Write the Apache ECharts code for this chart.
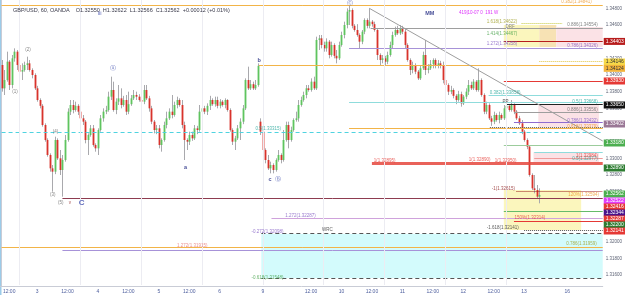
<!DOCTYPE html>
<html>
<head>
<meta charset="utf-8">
<script src="https://cdn.jsdelivr.net/npm/echarts@6/dist/echarts.min.js"></script>
<style>html,body{margin:0;padding:0;background:#fff}#chart{width:625px;height:295px}</style>
</head>
<body>
<div id="chart"></div>
<script>
// GBP/USD 60 min candles
var opens = [
1.3412,1.3384,1.3394,1.3416,1.3388,1.3420,1.3428,1.3412,1.3404,1.3406,
1.3412,1.3414,1.3406,1.3400,1.3384,1.3370,1.3363,1.3340,1.3322,1.3304,
1.3288,1.3284,1.3322,1.3300,1.3286,1.3298,1.3322,1.3356,1.3364,1.3358,
1.3363,1.3356,1.3348,1.3344,1.3322,1.3328,1.3336,1.3316,1.3312,1.3334,
1.3348,1.3356,1.3358,1.3374,1.3382,1.3358,1.3368,1.3372,1.3364,1.3370,
1.3356,1.3365,1.3372,1.3376,1.3374,1.3370,1.3368,1.3382,1.3372,1.3360,
1.3344,1.3334,1.3336,1.3316,1.3322,1.3340,1.3348,1.3356,1.3352,1.3364,
1.3370,1.3364,1.3340,1.3322,1.3320,1.3328,1.3324,1.3336,1.3334,1.3356,
1.3360,1.3356,1.3363,1.3370,1.3365,1.3370,1.3363,1.3368,1.3364,1.3370,
1.3358,1.3334,1.3320,1.3324,1.3336,1.3344,1.3360,1.3394,1.3384,1.3389,
1.3384,1.3388,1.3344,1.3332,1.3310,1.3298,1.3288,1.3292,1.3286,1.3298,
1.3304,1.3298,1.3322,1.3340,1.3322,1.3334,1.3346,1.3348,1.3364,1.3370,
1.3376,1.3384,1.3382,1.3392,1.3384,1.3442,1.3444,1.3436,1.3432,1.3440,
1.3424,1.3436,1.3423,1.3420,1.3436,1.3448,1.3460,1.3476,1.3478,1.3459,
1.3454,1.3448,1.3440,1.3452,1.3466,1.3459,1.3464,1.3461,1.3454,1.3424,
1.3418,1.3420,1.3416,1.3424,1.3436,1.3448,1.3454,1.3450,1.3456,1.3452,
1.3436,1.3418,1.3406,1.3412,1.3404,1.3396,1.3408,1.3424,1.3406,1.3408,
1.3413,1.3418,1.3411,1.3414,1.3411,1.3394,1.3388,1.3380,1.3382,1.3375,
1.3370,1.3377,1.3366,1.3374,1.3380,1.3388,1.3384,1.3392,1.3382,1.3394,
1.3376,1.3356,1.3364,1.3348,1.3344,1.3352,1.3346,1.3352,1.3348,1.3360,
1.3363,1.3358,1.3364,1.3356,1.3348,1.3342,1.3332,1.3322,1.3314,1.3280,
1.3264,1.3262,1.3254
];
var closes = [
1.3384,1.3394,1.3416,1.3388,1.3420,1.3428,1.3412,1.3404,1.3406,1.3412,
1.3414,1.3406,1.3400,1.3384,1.3370,1.3363,1.3340,1.3322,1.3304,1.3288,
1.3284,1.3322,1.3300,1.3286,1.3298,1.3322,1.3356,1.3364,1.3358,1.3363,
1.3356,1.3348,1.3344,1.3322,1.3328,1.3336,1.3316,1.3312,1.3334,1.3348,
1.3356,1.3358,1.3374,1.3382,1.3358,1.3368,1.3372,1.3364,1.3370,1.3356,
1.3365,1.3372,1.3376,1.3374,1.3370,1.3368,1.3382,1.3372,1.3360,1.3344,
1.3334,1.3336,1.3316,1.3322,1.3340,1.3348,1.3356,1.3352,1.3364,1.3370,
1.3364,1.3340,1.3322,1.3320,1.3328,1.3324,1.3336,1.3334,1.3356,1.3360,
1.3356,1.3363,1.3370,1.3365,1.3370,1.3363,1.3368,1.3364,1.3370,1.3358,
1.3334,1.3320,1.3324,1.3336,1.3344,1.3360,1.3394,1.3384,1.3389,1.3384,
1.3388,1.3411,1.3332,1.3310,1.3298,1.3288,1.3292,1.3286,1.3298,1.3304,
1.3298,1.3322,1.3340,1.3322,1.3334,1.3346,1.3348,1.3364,1.3370,1.3376,
1.3384,1.3382,1.3392,1.3384,1.3442,1.3444,1.3436,1.3432,1.3440,1.3424,
1.3436,1.3423,1.3420,1.3436,1.3448,1.3460,1.3476,1.3478,1.3459,1.3454,
1.3448,1.3440,1.3452,1.3466,1.3459,1.3464,1.3461,1.3454,1.3424,1.3418,
1.3420,1.3416,1.3424,1.3436,1.3448,1.3454,1.3450,1.3456,1.3452,1.3436,
1.3418,1.3406,1.3412,1.3404,1.3396,1.3408,1.3424,1.3406,1.3408,1.3413,
1.3418,1.3411,1.3414,1.3411,1.3394,1.3388,1.3380,1.3382,1.3375,1.3370,
1.3377,1.3366,1.3374,1.3380,1.3388,1.3384,1.3392,1.3382,1.3394,1.3376,
1.3356,1.3364,1.3348,1.3344,1.3352,1.3346,1.3352,1.3348,1.3360,1.3363,
1.3358,1.3364,1.3356,1.3348,1.3342,1.3332,1.3322,1.3314,1.3280,1.3264,
1.3262,1.3254,1.3256
];
var highs = [
1.3418,1.3406,1.3428,1.3418,1.3424,1.3432,1.3430,1.3416,1.3414,1.3416,
1.3422,1.3418,1.3408,1.3402,1.3387,1.3372,1.3365,1.3342,1.3324,1.3306,
1.3292,1.3326,1.3324,1.3310,1.3304,1.3328,1.3360,1.3370,1.3370,1.3368,
1.3365,1.3358,1.3352,1.3346,1.3330,1.3340,1.3340,1.3318,1.3336,1.3352,
1.3360,1.3363,1.3380,1.3398,1.3392,1.3372,1.3388,1.3384,1.3375,1.3376,
1.3380,1.3376,1.3382,1.3380,1.3377,1.3372,1.3388,1.3388,1.3375,1.3363,
1.3346,1.3340,1.3340,1.3324,1.3344,1.3356,1.3360,1.3376,1.3368,1.3374,
1.3372,1.3370,1.3344,1.3324,1.3332,1.3332,1.3340,1.3339,1.3364,1.3368,
1.3363,1.3366,1.3375,1.3372,1.3374,1.3374,1.3371,1.3370,1.3372,1.3371,
1.3360,1.3336,1.3327,1.3340,1.3348,1.3364,1.3396,1.3410,1.3394,1.3392,
1.3394,1.3414,1.3348,1.3334,1.3312,1.3304,1.3296,1.3294,1.3300,1.3310,
1.3306,1.3334,1.3344,1.3344,1.3338,1.3348,1.3356,1.3370,1.3374,1.3380,
1.3388,1.3388,1.3396,1.3398,1.3446,1.3448,1.3448,1.3440,1.3444,1.3442,
1.3440,1.3438,1.3430,1.3440,1.3452,1.3464,1.3480,1.3483,1.3480,1.3461,
1.3461,1.3450,1.3454,1.3468,1.3468,1.3480,1.3466,1.3464,1.3456,1.3426,
1.3424,1.3423,1.3428,1.3440,1.3452,1.3458,1.3459,1.3460,1.3459,1.3456,
1.3438,1.3420,1.3416,1.3414,1.3406,1.3412,1.3428,1.3442,1.3413,1.3418,
1.3420,1.3420,1.3418,1.3417,1.3416,1.3396,1.3390,1.3387,1.3384,1.3377,
1.3381,1.3380,1.3376,1.3384,1.3394,1.3392,1.3395,1.3394,1.3408,1.3396,
1.3378,1.3368,1.3366,1.3351,1.3356,1.3354,1.3356,1.3354,1.3364,1.3366,
1.3365,1.3370,1.3366,1.3358,1.3351,1.3346,1.3334,1.3324,1.3316,1.3282,
1.3280,1.3268,1.3264
];
var lows = [
1.3380,1.3376,1.3392,1.3382,1.3384,1.3416,1.3406,1.3400,1.3394,1.3404,
1.3406,1.3404,1.3396,1.3382,1.3368,1.3360,1.3338,1.3320,1.3302,1.3284,
1.3260,1.3281,1.3298,1.3280,1.3254,1.3296,1.3320,1.3352,1.3354,1.3356,
1.3352,1.3346,1.3340,1.3318,1.3304,1.3326,1.3314,1.3308,1.3304,1.3332,
1.3344,1.3353,1.3356,1.3370,1.3356,1.3353,1.3364,1.3360,1.3362,1.3352,
1.3353,1.3363,1.3370,1.3370,1.3368,1.3364,1.3365,1.3370,1.3356,1.3341,
1.3330,1.3329,1.3312,1.3308,1.3320,1.3336,1.3346,1.3348,1.3350,1.3360,
1.3362,1.3336,1.3298,1.3310,1.3316,1.3321,1.3322,1.3329,1.3332,1.3352,
1.3353,1.3352,1.3358,1.3363,1.3362,1.3360,1.3360,1.3362,1.3360,1.3356,
1.3332,1.3316,1.3310,1.3322,1.3322,1.3341,1.3358,1.3382,1.3382,1.3382,
1.3382,1.3386,1.3328,1.3308,1.3294,1.3286,1.3282,1.3282,1.3284,1.3296,
1.3294,1.3296,1.3320,1.3312,1.3320,1.3332,1.3344,1.3344,1.3362,1.3368,
1.3372,1.3380,1.3380,1.3382,1.3382,1.3430,1.3432,1.3428,1.3428,1.3420,
1.3422,1.3420,1.3414,1.3418,1.3434,1.3444,1.3456,1.3460,1.3456,1.3452,
1.3446,1.3432,1.3437,1.3449,1.3456,1.3456,1.3458,1.3452,1.3418,1.3412,
1.3414,1.3412,1.3413,1.3422,1.3432,1.3446,1.3448,1.3448,1.3449,1.3432,
1.3416,1.3400,1.3402,1.3401,1.3394,1.3394,1.3406,1.3400,1.3402,1.3406,
1.3408,1.3408,1.3408,1.3408,1.3390,1.3384,1.3376,1.3377,1.3372,1.3365,
1.3368,1.3362,1.3364,1.3371,1.3376,1.3382,1.3382,1.3380,1.3380,1.3374,
1.3353,1.3353,1.3346,1.3339,1.3341,1.3344,1.3342,1.3346,1.3346,1.3356,
1.3356,1.3356,1.3353,1.3346,1.3340,1.3329,1.3320,1.3311,1.3278,1.3262,
1.3258,1.3252,1.3246
];

// time axis
var timeTicks  = [3, 14, 26, 38, 50, 62, 74, 86, 103, 122, 134, 146, 158, 170, 182, 194, 206, 223];
var timeLabels = ['12:00','3','12:00','4','12:00','5','12:00','6','9','12:00','10','12:00','11','12:00','12','12:00','13','16'];
var gridLines  = [7, 31, 55, 79, 103, 127, 151, 175, 199];
var priceTicks = [1.316,1.318,1.320,1.322,1.324,1.326,1.328,1.330,1.332,1.334,1.336,1.338,1.340,1.342,1.344,1.346,1.348];

// drawn levels: [fromBar, toBar, price, kind]
var levels = [
  [0, 237, 1.3484, 'orange'],
  [145.5, 237, 1.3456, 'grey'],
  [205, 221, 1.3462, 'oliveDot'],
  [198, 237, 1.3440, 'darkred'],
  [137, 237, 1.3432, 'lavender'],
  [212, 237, 1.3416, 'yellowDot'],
  [101.5, 237, 1.3412, 'orange'],
  [198, 237, 1.3393, 'red'],
  [192, 237, 1.3376, 'teal'],
  [137, 237, 1.3367, 'teal'],
  [199, 237, 1.3365, 'black'],
  [202, 237, 1.33556, 'grey'],
  [202, 237, 1.33432, 'purple'],
  [192.5, 237, 1.33376, 'darkDot'],
  [137, 237, 1.3336, 'orange'],
  [0, 237, 1.33316, 'cyanDash'],
  [198, 237, 1.3316, 'greenLight'],
  [210, 237, 1.33076, 'teal'],
  [210, 237, 1.33004, 'salmon'],
  [146, 237, 1.32944, 'redThick'],
  [203, 237, 1.32608, 'darkredDot'],
  [24, 237, 1.3252, 'maroon'],
  [198, 237, 1.32368, 'green'],
  [106.4, 237, 1.32284, 'pink'],
  [202, 237, 1.3225, 'red'],
  [206, 237, 1.3214, 'darkDot'],
  [102.4, 237, 1.32098, 'darkDash'],
  [0, 237, 1.31936, 'orange'],
  [24, 237, 1.3190, 'lavender'],
  [102.4, 237, 1.31564, 'darkDash']
];
// trend line [bar, price] -> [bar, price]
var trendLine = [[145, 1.3480], [237, 1.33208]];

// boxes: [fromBar, toBar, priceA, priceB, kind]
var boxes = [
  [198, 212, 1.3460, 1.34336, 'yellow'],
  [212, 218.7, 1.3460, 1.34336, 'tan'],
  [218.7, 237, 1.34576, 1.34336, 'pink'],
  [211.6, 235.5, 1.3364, 1.33376, 'pink'],
  [209.7, 235.5, 1.33076, 1.32956, 'pink'],
  [198, 228.5, 1.3262, 1.3214, 'yellow'],
  [102.4, 237, 1.32092, 1.31564, 'cyan']
];

// price tags on the right scale: [price, text, kind]
var priceTags = [
  [1.34403, '1.34403', 'darkred'],
  [1.34156, '1.34146', 'yellow'],
  [1.34080, '1.34124', 'amber'],
  [1.33928, '1.33930', 'red'],
  [1.33640, '1.33650', 'black'],
  [1.33412, '1.33402', 'mauve'],
  [1.33184, '1.33180', 'green'],
  [1.32884, '1.32890', 'darkgreen'],
  [1.32572, '1.32562', 'green'],
  [1.32488, '1.32522', 'magenta'],
  [1.32416, '1.32416', 'red'],
  [1.32344, '1.32344', 'violet'],
  [1.32272, '1.32287', 'red'],
  [1.32200, '1.32200', 'darkgreen'],
  [1.32128, '1.32141', 'red']
];

// text notes: [bar, price, text, kind]
var notes = [
  [37.9, 1.34744, 'iii', 'wave'],
  [136.1, 1.34864, 'Ⓒ', 'wave'],
  [167, 1.34744, 'MM', 'navy'],
  [180.3, 1.34744, '419|10-07 0  191 W', 'magenta'],
  [191.3, 1.34636, '1.618(1.34622)', 'olive'],
  [220.6, 1.34876, '0.382(1.34841)', 'orange'],
  [223, 1.3460, '0.886(1.34554)', 'grey'],
  [198.7, 1.34576, 'DRF', 'grey'],
  [191.3, 1.34492, '1.414(1.34467)', 'green'],
  [191.3, 1.34372, '1.272(1.34358)', 'purple'],
  [223, 1.34348, '0.786(1.34326)', 'purple'],
  [192.5, 1.33784, '0.382(1.33858)', 'teal'],
  [225, 1.33676, '0.5(1.33668)', 'teal'],
  [197.5, 1.33676, 'PP', 'dark'],
  [223, 1.3358, '0.886(1.33556)', 'grey'],
  [223, 1.33448, '0.786(1.33432)', 'purple'],
  [223, 1.33376, '0.618(1.33379)', 'orange'],
  [100.1, 1.33352, '0.5(1.33315)', 'teal'],
  [225, 1.32996, '0.5(1.32977)', 'teal'],
  [226.5, 1.33030, '1(1.32984)', 'red'],
  [146.7, 1.32968, '1(1.32895)', 'red'],
  [184.2, 1.32980, '1(1.32890)', 'red'],
  [194.4, 1.32968, '1(1.32950)', 'red'],
  [193.2, 1.32632, '-1(1.32615)', 'darkred'],
  [223.4, 1.3256, '120%(1.32594)', 'orange'],
  [111.8, 1.32308, '1.272(1.32287)', 'purple'],
  [202.2, 1.32284, '150%(1.32314)', 'red'],
  [191.3, 1.32164, '-1.618(1.32141)', 'dark'],
  [98.5, 1.32116, '-0.272(1.32098)', 'purple'],
  [126.3, 1.3214, 'WRC', 'dark'],
  [69.2, 1.31948, '1.272(1.31915)', 'salmon'],
  [222.6, 1.31972, '0.786(1.31959)', 'olive'],
  [98.5, 1.31564, '-0.618(1.31548)', 'green'],
  [4.2, 1.33796, '(1)', 'grey'],
  [9.3, 1.3430, '(2)', 'grey'],
  [19.1, 1.3256, '(3)', 'grey'],
  [20.2, 1.33316, '(4)', 'grey'],
  [22.2, 1.32464, '(5)', 'grey'],
  [26.5, 1.32464, 'v', 'darkred'],
  [30.4, 1.32464, 'C', 'bigC'],
  [42.6, 1.3408, 'Ⓐ', 'wave'],
  [71.9, 1.32896, 'a', 'navy'],
  [100.9, 1.3418, 'b', 'navy'],
  [105.2, 1.32752, 'c', 'navy'],
  [107.9, 1.32752, 'Ⓑ', 'wave']
];

var lineKinds = {
  orange: {color: '#f2b448', width: 1},
  grey: {color: '#9e9e9e', width: 1},
  oliveDot: {color: '#c5c83a', width: 1, type: 'dotted'},
  darkred: {color: '#b71c1c', width: 1.2},
  lavender: {color: '#a792d8', width: 1},
  yellowDot: {color: '#e3c43c', width: 1, type: 'dotted'},
  red: {color: '#e53935', width: 1},
  teal: {color: '#8fdcdc', width: 1},
  black: {color: '#222222', width: 1},
  purple: {color: '#8e6bd0', width: 1},
  darkDot: {color: '#555555', width: 1, type: 'dotted'},
  cyanDash: {color: '#4fd3e0', width: 1.2, type: [4, 3]},
  greenLight: {color: '#9ccc9c', width: 1},
  salmon: {color: '#f19a9a', width: 1},
  redThick: {color: '#e5473d', width: 3, opacity: 0.85},
  darkredDot: {color: '#9b1c1c', width: 1, type: 'dotted'},
  maroon: {color: '#8e3b50', width: 1},
  green: {color: '#66bb6a', width: 1},
  pink: {color: '#cfa2dc', width: 1},
  darkDash: {color: '#555555', width: 1, type: [4, 3]}
};
var boxColors = {yellow: '#fbf6bd', tan: '#f7e2b4', pink: '#fbe2e6', cyan: '#d3fbfc'};
var tagColors = {
  darkred: ['#b71c1c', '#fff'], yellow: ['#f6d94a', '#333'], amber: ['#f2b43b', '#333'],
  red: ['#e53935', '#fff'], black: ['#111', '#fff'], mauve: ['#9a7796', '#fff'],
  green: ['#4caf50', '#fff'], darkgreen: ['#2e7d32', '#fff'], magenta: ['#e040fb', '#fff'],
  violet: ['#4a148c', '#fff']
};
var noteStyles = {
  wave: {color: '#3949ab', fontSize: 6},
  navy: {color: '#1a237e', fontSize: 5.5, fontWeight: 'bold'},
  magenta: {color: '#d500f9', fontSize: 4.5},
  olive: {color: '#9e9d24', fontSize: 4.5},
  orange: {color: '#ef9a2a', fontSize: 4.5},
  grey: {color: '#666', fontSize: 4.5},
  green: {color: '#43a047', fontSize: 4.5},
  purple: {color: '#7e57c2', fontSize: 4.5},
  teal: {color: '#26a69a', fontSize: 4.5},
  dark: {color: '#333', fontSize: 4.5},
  red: {color: '#e53935', fontSize: 4.5},
  darkred: {color: '#8b1a1a', fontSize: 4.5},
  salmon: {color: '#e57373', fontSize: 4.5},
  bigC: {color: '#3949ab', fontSize: 8, fontWeight: 'bold'}
};

var candleData = opens.map(function (o, i) { return [i, o, closes[i], lows[i], highs[i]]; });

var levelLines = levels.map(function (l) {
  var k = lineKinds[l[3]];
  return [{coord: [l[0], l[2]], lineStyle: {color: k.color, width: k.width, type: k.type || 'solid', opacity: k.opacity || 1}},
          {coord: [l[1], l[2]]}];
});
levelLines.push([{coord: trendLine[0], lineStyle: {color: '#9e9e9e', width: 1, type: 'solid'}}, {coord: trendLine[1]}]);
gridLines.forEach(function (g) {
  levelLines.push([{coord: [g, 1.3148], lineStyle: {color: '#ececf2', width: 1, type: 'solid'}}, {coord: [g, 1.3490]}]);
});

// tags: invisible short segment at the right edge, label sits just outside it
var tagLines = priceTags.map(function (t) {
  var c = tagColors[t[2]];
  return [
    {coord: [236.5, t[0]], lineStyle: {color: 'rgba(0,0,0,0)', width: 0.1, opacity: 1},
     label: {show: true, position: 'end', distance: 1, formatter: t[1], opacity: 1,
       backgroundColor: c[0], color: c[1], fontSize: 5, padding: [1, 2, 1, 2], fontFamily: 'Liberation Sans'}},
    {coord: [237, t[0]]}
  ];
});

var areaData = boxes.map(function (b) {
  return [{coord: [b[0], b[2]], itemStyle: {color: boxColors[b[4]]}}, {coord: [b[1], b[3]]}];
});

var noteData = notes.map(function (n) {
  var s = noteStyles[n[3]];
  return {value: [n[0], n[1]], label: {formatter: n[2], color: s.color, fontSize: s.fontSize, fontWeight: s.fontWeight || 'normal'}};
});

var myChart = echarts.init(document.getElementById('chart'));
var option = {
  animation: false,
  backgroundColor: '#fff',
  title: {
    text: 'GBP/USD, 60, OANDA    O1.32550  H1.32622  L1.32566  C1.32562  +0.00012 (+0.01%)',
    left: 8, top: 2,
    textStyle: {fontSize: 5.5, color: '#3a3a4a', fontWeight: 'normal', fontFamily: 'Liberation Sans'}
  },
  grid: {left: 0, right: 17, top: 0, bottom: 9},
  xAxis: {
    type: 'value', min: -0.5, max: 237,
    splitLine: {show: false},
    axisLine: {lineStyle: {color: '#c9ccd6'}},
    axisTick: {show: false},
    axisLabel: {
      customValues: timeTicks,
      formatter: function (v) { var i = timeTicks.indexOf(v); return i >= 0 ? timeLabels[i] : ''; },
      fontSize: 5, color: '#4e5f9e', margin: 3, fontFamily: 'Liberation Sans'
    }
  },
  yAxis: {
    type: 'value', position: 'right', min: 1.31468, max: 1.3490, scale: true,
    splitLine: {show: false},
    axisLine: {show: true, lineStyle: {color: '#c9ccd6'}},
    axisTick: {show: false},
    axisLabel: {
      customValues: priceTicks,
      formatter: function (v) { return v.toFixed(5); },
      fontSize: 4.5, color: '#5d6375', margin: 3, fontFamily: 'Liberation Sans'
    }
  },
  graphic: [{type: 'rect', left: 0, top: 0, shape: {width: 1.5, height: 295}, style: {fill: '#9ccbe8'}}],
  series: [
    {
      type: 'line', data: [], z: 1, silent: true,
      markArea: {silent: true, data: areaData}
    },
    {
      type: 'custom', z: 3, data: candleData,
      encode: {x: 0, y: [1, 2, 3, 4]},
      renderItem: function (params, api) {
        var i = api.value(0);
        var o = api.coord([i, api.value(1)]);
        var c = api.coord([i, api.value(2)]);
        var l = api.coord([i, api.value(3)]);
        var h = api.coord([i, api.value(4)]);
        var up = api.value(2) >= api.value(1);
        var w = api.size([1, 0])[0] * 0.72;
        var x = Math.round(o[0]) + 0.5;
        return {type: 'group', children: [
          {type: 'line', shape: {x1: x, y1: h[1], x2: x, y2: l[1]}, style: {stroke: '#a9a9ad', lineWidth: 1}},
          {type: 'rect', shape: {x: x - w / 2, y: Math.min(o[1], c[1]), width: w, height: Math.max(Math.abs(o[1] - c[1]), 1)},
           style: {fill: up ? '#5fc45f' : '#d8332c'}}
        ]};
      }
    },
    {
      type: 'line', data: [], z: 4, silent: true,
      markLine: {silent: true, symbol: ['none', 'none'], label: {show: false}, data: levelLines}
    },
    {
      type: 'line', data: [], z: 7, silent: true, clip: false,
      markLine: {silent: true, symbol: ['none', 'none'], data: tagLines}
    },
    {
      type: 'scatter', z: 6, symbolSize: 0, data: noteData, silent: true, clip: false,
      label: {show: true, position: 'right', distance: 0, fontFamily: 'Liberation Sans'}
    }
  ]
};
myChart.setOption(option);
</script>
</body>
</html>
